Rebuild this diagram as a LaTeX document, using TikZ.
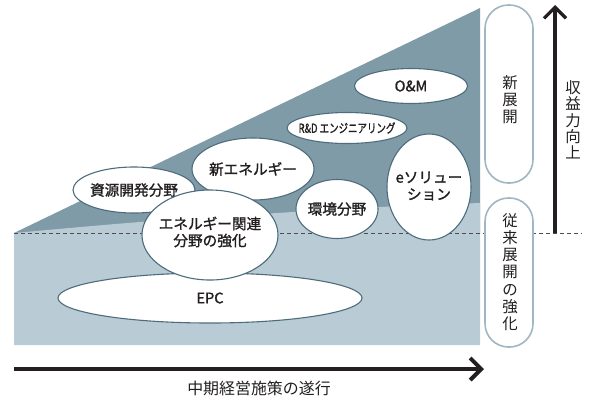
\documentclass[tikz,border=0pt]{standalone}
\usepackage{fontspec}
\usepackage{graphicx}
\setmainfont{Noto Sans CJK JP}
\newfontfamily\jpm{Noto Sans CJK JP}[FakeBold=1.4]
\usetikzlibrary{arrows.meta,shapes.geometric}
\definecolor{darkfill}{RGB}{127,155,168}
\definecolor{lightfill}{RGB}{185,203,212}
\definecolor{ellborder}{RGB}{78,108,124}
\definecolor{pillborder}{RGB}{160,182,194}
\definecolor{inkblack}{RGB}{35,31,32}
\begin{document}
\begin{tikzpicture}[x=1bp,y=-1bp,
  blob/.style={ellipse, draw=ellborder, fill=white, line width=1.1bp, inner sep=0pt},
  lbl/.style={font=\jpm\fontsize{14.7}{17}\selectfont, align=center, inner sep=0pt, text=inkblack},
  pill/.style={draw=pillborder, fill=white, line width=1.6bp, rounded corners=23.5bp},
  vtext/.style={font=\fontsize{15.5}{17.2}\selectfont, align=center, inner sep=0pt, text=inkblack},
  divline/.style={draw=inkblack!80, line width=0.8bp, dash pattern=on 4bp off 3bp},
  bigarrow/.style={draw=inkblack, -{Straight Barb[length=11bp,width=22bp]}}
]
\useasboundingbox (0,0) rectangle (591,400);

% background regions
\fill[darkfill] (14,233) -- (480,8) -- (480,233) -- cycle;
\fill[lightfill] plot[smooth] coordinates {(14,233) (140,222) (277,213) (380,207) (480,203)}
  -- (480,345) -- (14,345) -- cycle;

% dashed division line
\coordinate (dl) at (14,233);
\coordinate (dr) at (582,233);
\draw[divline] (dl) -- (dr);

% ellipses
\node[blob, minimum width=122bp, minimum height=46bp] (shigen) at (134,190) {};
\node[blob, minimum width=122bp, minimum height=62bp] (newe) at (253,169) {};
\node[blob, minimum width=82bp, minimum height=59bp] (kankyo) at (337,209) {};
\node[blob, minimum width=84bp, minimum height=106bp] (esol) at (429,187) {};
\node[blob, minimum width=113bp, minimum height=35bp] (om) at (411,86) {};
\node[blob, minimum width=120bp, minimum height=31bp] (rd) at (347,128) {};
\node[blob, minimum width=304bp, minimum height=50bp] (epc) at (210,298) {};
\node[blob, minimum width=136bp, minimum height=90bp] (kanren) at (210,235) {};

\node[lbl] at (shigen) {資源開発分野};
\node[lbl] at (newe) {新エネルギー};
\node[lbl] at (kankyo) {環境分野};
\node[lbl] at ([yshift=1bp]esol.center) {eソリュー\\ション};
\node[lbl] at (om) {O\&M};
\node[lbl] at (rd) {\scalebox{0.76}[1]{\fontsize{12.5}{14}\selectfont R\&D エンジニアリング}};
\node[lbl] at (epc) {EPC};
\node[lbl] at ([yshift=3bp]kanren.center) {エネルギー関連\\分野の強化};

% right pills
\path[pill] (485,5) rectangle (533,183);
\path[pill] (485,198) rectangle (533,347);
\node[vtext] (shin) at (510,100) {新\\展\\開};
\node[vtext] (jurai) at (510,272) {従\\来\\展\\開\\の\\強\\化};

% vertical arrow
\coordinate (ua0) at (555,233);
\coordinate (ua1) at (555,5);
\draw[bigarrow, line width=3.2bp] (ua0) -- (ua1);
\node[vtext, font=\fontsize{15.5}{16.4}\selectfont] (shueki) at (573,120) {収\\益\\力\\向\\上};

% horizontal arrow
\coordinate (ha0) at (14,369);
\coordinate (ha1) at (484,369);
\draw[bigarrow, line width=4bp] (ha0) -- (ha1);
\node[font=\fontsize{16}{18}\selectfont, text=inkblack, inner sep=0pt] (chuki) at (259,388) {中期経営施策の遂行};
\end{tikzpicture}
\end{document}
